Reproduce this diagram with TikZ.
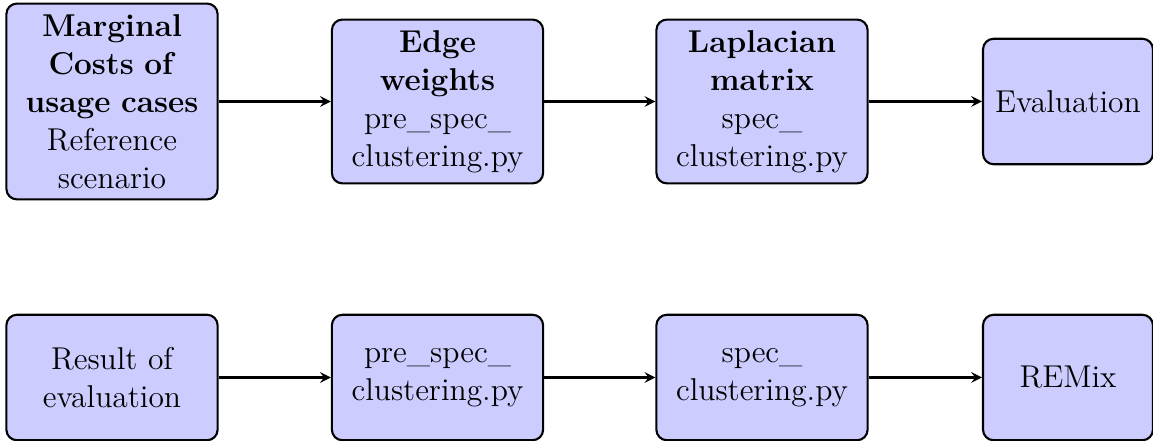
\documentclass[tikz,border=0pt]{standalone}
\usetikzlibrary{arrows}
\begin{document}
\begin{tikzpicture}[x=0.3802pt,y=-0.3802pt,
  stepbox/.style={draw,thick,rounded corners=4pt,fill=blue!20,align=center,
    font=\fontsize{12}{14.5}\selectfont,inner sep=4pt,minimum height=47.7pt},
  wide/.style={minimum width=80.3pt,text width=71.5pt},
  narrow/.style={minimum width=64.6pt},
  flow/.style={thick,-stealth}]
\useasboundingbox (0,0) rectangle (1153,441);
\node[stepbox,wide] (mc) at (112,101.5) {\textbf{Marginal}\\\textbf{Costs of}\\\textbf{usage cases}\\Reference\\scenario};
\node[stepbox,wide] (ew) at (437.5,101.5) {\textbf{Edge}\\\textbf{weights}\\pre\_spec\_\\clustering.py};
\node[stepbox,wide] (lm) at (762,101.5) {\textbf{Laplacian}\\\textbf{matrix}\\spec\_\\clustering.py};
\node[stepbox,narrow] (ev) at (1068,101.5) {Evaluation};
\node[stepbox,wide] (re) at (112,377.5) {Result of\\evaluation};
\node[stepbox,wide] (ps) at (437.5,377.5) {pre\_spec\_\\clustering.py};
\node[stepbox,wide] (sc) at (762,377.5) {spec\_\\clustering.py};
\node[stepbox,narrow] (rx) at (1068,377.5) {REMix};
\draw[flow] (mc) -- (ew);
\draw[flow] (ew) -- (lm);
\draw[flow] (lm) -- (ev);
\draw[flow] (re) -- (ps);
\draw[flow] (ps) -- (sc);
\draw[flow] (sc) -- (rx);
\end{tikzpicture}
\end{document}
